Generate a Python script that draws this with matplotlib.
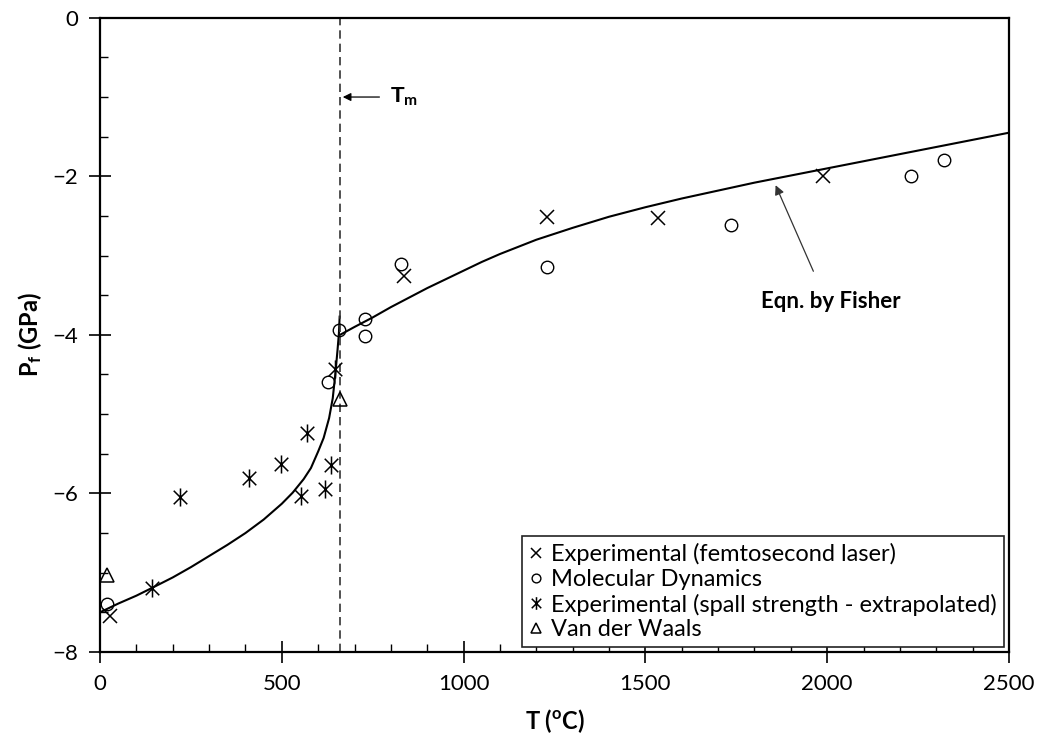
import matplotlib
matplotlib.use('Agg')
import matplotlib.pyplot as plt
from matplotlib.ticker import MultipleLocator
from matplotlib.path import Path

plt.rcParams['font.family'] = ['Lato', 'DejaVu Sans']
plt.rcParams['mathtext.fontset'] = 'custom'
plt.rcParams['mathtext.rm'] = 'Lato'
plt.rcParams['mathtext.bf'] = 'Lato:bold'
plt.rcParams['mathtext.it'] = 'Lato:italic'

# datos
femto_T = [28, 837, 1230, 1535, 1988]
femto_P = [-7.55, -3.26, -2.51, -2.52, -2.0]

md_T = [20, 627, 657, 728, 728, 828, 1230, 1734, 2230, 2321]
md_P = [-7.40, -4.60, -3.94, -3.80, -4.01, -3.10, -3.15, -2.62, -2.00, -1.80]

spall_T = [144, 220, 411, 497, 553, 569, 620, 635, 647]
spall_P = [-7.19, -6.05, -5.80, -5.63, -6.03, -5.24, -5.95, -5.64, -4.43]

vdw_T = [20, 661]
vdw_P = [-7.03, -4.81]

# curva de Fisher (dos ramas, antes y despues de Tm)
fish1_T = [0, 50, 100, 144, 200, 250, 300, 350, 400, 450, 500, 530, 560, 580, 600,
           615, 630, 640, 647, 653, 657, 659]
fish1_P = [-7.50, -7.39, -7.29, -7.19, -7.06, -6.93, -6.79, -6.65, -6.50, -6.33, -6.13,
           -5.99, -5.82, -5.68, -5.47, -5.30, -5.05, -4.80, -4.50, -4.20, -3.98, -3.77]
fish2_T = [660, 700, 750, 800, 850, 900, 950, 1000, 1050, 1100, 1150, 1200, 1300, 1400,
           1500, 1600, 1700, 1800, 1900, 2000, 2100, 2200, 2300, 2400, 2500]
fish2_P = [-4.00, -3.90, -3.78, -3.65, -3.53, -3.41, -3.30, -3.19, -3.08, -2.98, -2.89,
           -2.80, -2.65, -2.51, -2.39, -2.28, -2.18, -2.08, -1.99, -1.90, -1.81, -1.72,
           -1.63, -1.54, -1.45]

T_melt = 660

# asterisco: cruz con linea vertical
star = Path([(0, -1), (0, 1), (-0.75, -0.75), (0.75, 0.75), (-0.75, 0.75), (0.75, -0.75)],
            [Path.MOVETO, Path.LINETO, Path.MOVETO, Path.LINETO, Path.MOVETO, Path.LINETO])

fig = plt.figure(figsize=(10.4, 7.4), dpi=100)
ax = fig.add_axes([0.0962, 0.119, 0.874, 0.857])

ax.plot(fish1_T, fish1_P, color='black', linewidth=1.5)
ax.plot(fish2_T, fish2_P, color='black', linewidth=1.5)
ax.axvline(T_melt, color='#333333', linewidth=1.2, linestyle=(0, (5, 3)))

ax.plot(femto_T, femto_P, linestyle='none', marker='x', markersize=10, mew=1.1,
        color='black', label='Experimental (femtosecond laser)')
ax.plot(md_T, md_P, linestyle='none', marker='o', markersize=9, mew=1.0,
        mfc='none', color='black', label='Molecular Dynamics')
ax.plot(spall_T, spall_P, linestyle='none', marker=star, markersize=13, mew=1.1,
        color='black', label='Experimental (spall strength - extrapolated)')
ax.plot(vdw_T, vdw_P, linestyle='none', marker='^', markersize=10, mew=1.1,
        mfc='none', color='black', label='Van der Waals')

ax.set_xlim(0, 2500)
ax.set_ylim(-8, 0)
ax.xaxis.set_major_locator(MultipleLocator(500))
ax.xaxis.set_minor_locator(MultipleLocator(100))
ax.yaxis.set_major_locator(MultipleLocator(2))
ax.yaxis.set_minor_locator(MultipleLocator(0.5))
ax.tick_params(which='major', direction='inout', length=16, width=1.2, labelsize=16, pad=8)
ax.tick_params(which='minor', direction='in', length=6, width=1.0)
for s in ax.spines.values():
    s.set_linewidth(1.6)

ax.set_xlabel(r'T ($\mathbf{^{o}}$C)', fontsize=17, fontweight='bold', labelpad=9)
ax.set_ylabel(r'P$_\mathbf{f}$ (GPa)', fontsize=17, fontweight='bold', labelpad=6)

ax.annotate('', xy=(T_melt, -1.0), xytext=(776, -1.0),
            arrowprops=dict(arrowstyle='-|>', color='black', lw=0.9, mutation_scale=12))
ax.text(798, -1.0, r'T$_\mathbf{m}$', fontsize=16, fontweight='bold',
        family='Liberation Sans', va='center', ha='left')

ax.annotate('', xy=(1855, -2.08), xytext=(1965, -3.23),
            arrowprops=dict(arrowstyle='-|>', color='#333333', lw=0.9, mutation_scale=14))
ax.text(2009, -3.58, 'Eqn. by Fisher', fontsize=16, fontweight='bold', ha='center', va='center')

leg = ax.legend(loc='lower right', fontsize=17, markerscale=0.7, handlelength=0.6,
                handletextpad=0.35, labelspacing=0.15, borderpad=0.3, borderaxespad=0.2,
                fancybox=False, edgecolor='#222222', framealpha=1)
leg.get_frame().set_linewidth(1.2)

plt.savefig('out.png', dpi=100)
